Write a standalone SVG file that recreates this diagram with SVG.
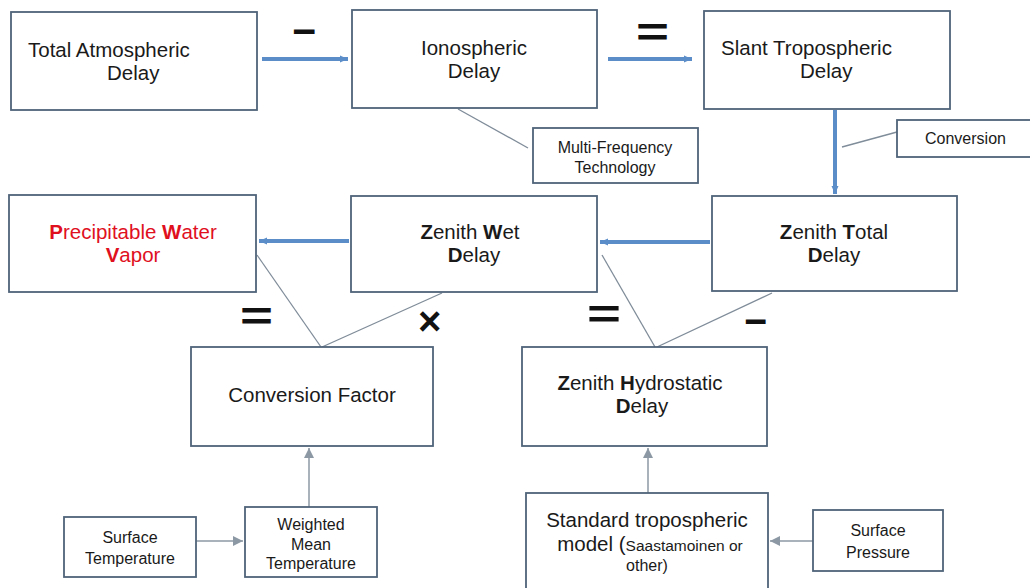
<svg xmlns="http://www.w3.org/2000/svg" width="1030" height="588" viewBox="0 0 1030 588">
<style>
.box{fill:#ffffff;stroke:#4f6379;stroke-width:1.8}
.t{font-family:"Liberation Sans",Arial,sans-serif;font-size:20.5px;fill:#1a1a1a}
.s{font-family:"Liberation Sans",Arial,sans-serif;font-size:16px;fill:#1a1a1a}
.red{fill:#e0101e}
.b{font-weight:bold}
.op{font-family:"Liberation Sans",Arial,sans-serif;font-weight:bold;font-size:40px;fill:#111}
.blue{stroke:#5b8dc9;stroke-width:4;fill:none}
.thin{stroke:#7f8c99;stroke-width:1.3;fill:none}
.grey{stroke:#8c98a4;stroke-width:1.5;fill:none}
</style>
<defs>
<marker id="ab" markerUnits="userSpaceOnUse" markerWidth="10" markerHeight="10" refX="8" refY="5" orient="auto">
<path d="M0,1.5 L8,5 L0,8.5 Z" fill="#5b8dc9"/>
</marker>
<marker id="ag" markerUnits="userSpaceOnUse" markerWidth="12" markerHeight="12" refX="10" refY="6" orient="auto">
<path d="M0,1 L10,6 L0,11 Z" fill="#8c98a4"/>
</marker>
</defs>
<rect width="1030" height="588" fill="#ffffff"/>

<g id="connectors">
<line class="blue" x1="262" y1="59" x2="348" y2="59" marker-end="url(#ab)"/>
<line class="blue" x1="608" y1="59" x2="692" y2="59" marker-end="url(#ab)"/>
<line class="blue" x1="835" y1="110" x2="835" y2="194" marker-end="url(#ab)"/>
<line class="blue" x1="710" y1="242" x2="600" y2="242" marker-end="url(#ab)"/>
<line class="blue" x1="349" y1="241" x2="259" y2="241" marker-end="url(#ab)"/>
<line class="thin" x1="458" y1="109" x2="528" y2="148"/>
<line class="thin" x1="897" y1="132" x2="842" y2="147"/>
<line class="thin" x1="257" y1="255" x2="321" y2="347"/>
<line class="thin" x1="442" y1="293" x2="322" y2="347"/>
<line class="thin" x1="602" y1="255" x2="655" y2="347"/>
<line class="thin" x1="772" y1="293" x2="657" y2="347"/>
<line class="grey" x1="309" y1="507" x2="309" y2="448" marker-end="url(#ag)"/>
<line class="grey" x1="196" y1="541" x2="243" y2="541" marker-end="url(#ag)"/>
<line class="grey" x1="648" y1="493" x2="648" y2="448" marker-end="url(#ag)"/>
<line class="grey" x1="813" y1="541" x2="770" y2="541" marker-end="url(#ag)"/>
</g>

<g id="operators">
<text class="op" x="292" y="45" textLength="24" lengthAdjust="spacingAndGlyphs">−</text>
<text class="op" x="636" y="46" textLength="33" lengthAdjust="spacingAndGlyphs">=</text>
<text class="op" x="240" y="330" textLength="33" lengthAdjust="spacingAndGlyphs">=</text>
<text class="op" x="418" y="335" font-size="34">×</text>
<text class="op" x="587" y="328" textLength="34" lengthAdjust="spacingAndGlyphs">=</text>
<text class="op" x="744" y="335" textLength="23" lengthAdjust="spacingAndGlyphs">−</text>
</g>

<g id="total-atmospheric-delay">
<rect class="box" x="11" y="12" width="246" height="98"/>
<text class="t" x="28" y="57" font-size="21px">Total Atmospheric</text>
<text class="t" x="107" y="80" font-size="21px">Delay</text>
</g>

<g id="ionospheric-delay">
<rect class="box" x="352" y="10" width="245" height="98"/>
<text class="t" x="474" y="55" text-anchor="middle">Ionospheric</text>
<text class="t" x="474" y="78" text-anchor="middle">Delay</text>
</g>

<g id="slant-tropospheric-delay">
<rect class="box" x="704" y="11" width="246" height="98"/>
<text class="t" x="721" y="55">Slant Tropospheric</text>
<text class="t" x="800" y="78">Delay</text>
</g>

<g id="multi-frequency">
<rect class="box" x="533" y="128" width="165" height="55"/>
<text class="s" x="615" y="153" text-anchor="middle">Multi-Frequency</text>
<text class="s" x="615" y="173" text-anchor="middle">Technology</text>
</g>

<g id="conversion">
<rect class="box" x="897" y="120" width="140" height="37"/>
<text class="s" x="925" y="144">Conversion</text>
</g>

<g id="precipitable-water-vapor">
<rect class="box" x="9" y="195" width="247" height="97"/>
<text class="t red" x="133" y="239" text-anchor="middle"><tspan class="b">P</tspan>recipitable <tspan class="b">W</tspan>ater</text>
<text class="t red" x="133" y="262" text-anchor="middle"><tspan class="b">V</tspan>apor</text>
</g>

<g id="zenith-wet-delay">
<rect class="box" x="351" y="196" width="246" height="96"/>
<text class="t" x="470" y="239" text-anchor="middle"><tspan class="b">Z</tspan>enith <tspan class="b">W</tspan>et</text>
<text class="t" x="474" y="262" text-anchor="middle"><tspan class="b">D</tspan>elay</text>
</g>

<g id="zenith-total-delay">
<rect class="box" x="712" y="196" width="245" height="95"/>
<text class="t" x="834" y="239" text-anchor="middle"><tspan class="b">Z</tspan>enith <tspan class="b">T</tspan>otal</text>
<text class="t" x="834" y="262" text-anchor="middle"><tspan class="b">D</tspan>elay</text>
</g>

<g id="conversion-factor">
<rect class="box" x="191" y="347" width="242" height="99"/>
<text class="t" x="312" y="402" text-anchor="middle">Conversion Factor</text>
</g>

<g id="zenith-hydrostatic-delay">
<rect class="box" x="522" y="347" width="245" height="99"/>
<text class="t" x="640" y="390" text-anchor="middle"><tspan class="b">Z</tspan>enith <tspan class="b">H</tspan>ydrostatic</text>
<text class="t" x="642" y="413" text-anchor="middle"><tspan class="b">D</tspan>elay</text>
</g>

<g id="surface-temperature">
<rect class="box" x="64" y="517" width="132" height="60"/>
<text class="s" x="130" y="543" text-anchor="middle">Surface</text>
<text class="s" x="130" y="564" text-anchor="middle">Temperature</text>
</g>

<g id="weighted-mean-temperature">
<rect class="box" x="245" y="507" width="132" height="70"/>
<text class="s" x="311" y="530" text-anchor="middle">Weighted</text>
<text class="s" x="311" y="550" text-anchor="middle">Mean</text>
<text class="s" x="311" y="569" text-anchor="middle">Temperature</text>
</g>

<g id="standard-tropospheric-model">
<rect class="box" x="526" y="493" width="242" height="100"/>
<text class="t" x="647" y="527" text-anchor="middle">Standard tropospheric</text>
<text class="t" x="650" y="551" text-anchor="middle">model (<tspan font-size="15.5px">Saastamoinen or</tspan></text>
<text class="s" x="647" y="571" text-anchor="middle">other)</text>
</g>

<g id="surface-pressure">
<rect class="box" x="813" y="510" width="130" height="61"/>
<text class="s" x="878" y="536" text-anchor="middle">Surface</text>
<text class="s" x="878" y="558" text-anchor="middle">Pressure</text>
</g>
</svg>
